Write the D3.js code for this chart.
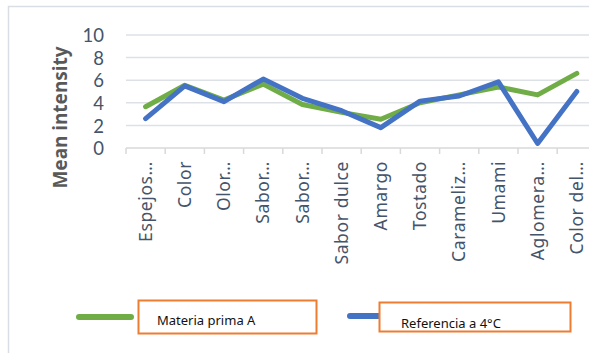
<!DOCTYPE html>
<html>
<head>
<meta charset="utf-8">
<script src="https://cdn.jsdelivr.net/npm/d3@7"></script>
<style>
  html, body { margin: 0; padding: 0; background: #fff; }
  svg { display: block; }
</style>
</head>
<body>
<svg id="chart" width="589" height="353"></svg>
<script>
// Sensory attributes (truncated as shown on the axis)
const categories = ["Espejos…", "Color", "Olor…", "Sabor…", "Sabor…", "Sabor dulce",
  "Amargo", "Tostado", "Carameliz…", "Umami", "Aglomera…", "Color del…"];

// Mean intensity per attribute
const materiaPrimaA = [3.65, 5.55, 4.25, 5.65, 3.85, 3.15, 2.55, 4.0, 4.7, 5.4, 4.7, 6.6];
const referencia4C  = [2.6, 5.5, 4.1, 6.1, 4.4, 3.3, 1.8, 4.15, 4.6, 5.85, 0.4, 5.0];

const seriesNames = ["Materia prima A", "Referencia a 4°C"];
const seriesColors = ["#70AD47", "#4472C4"];
const yTicks = [0, 2, 4, 6, 8, 10];

const svg = d3.select("#chart");
const font = "'Noto Sans', 'Open Sans', sans-serif";
const textColor = "#44546A";

// Outer chart frame
svg.append("path")
  .attr("d", "M8.5,353 L8.5,6.5 L589,6.5")
  .attr("fill", "none")
  .attr("stroke", "#D9DEE4")
  .attr("stroke-width", 1.5);

const plotLeft = 126, plotTop = 35, plotBottom = 148;
const step = 39.2;

const x = d3.scaleBand()
  .domain(d3.range(categories.length))
  .range([plotLeft, plotLeft + step * categories.length])
  .paddingInner(0).paddingOuter(0);

const y = d3.scaleLinear().domain([0, 10]).range([plotBottom, plotTop]);

// Horizontal gridlines
svg.append("g")
  .selectAll("line")
  .data(yTicks.filter(t => t > 0))
  .join("line")
  .attr("x1", plotLeft).attr("x2", plotLeft + step * categories.length)
  .attr("y1", d => y(d)).attr("y2", d => y(d))
  .attr("stroke", "#DDE1E6").attr("stroke-width", 1.5);

// Y axis labels
const yAxis = svg.append("g")
  .attr("transform", `translate(${plotLeft - 22},0)`)
  .call(d3.axisLeft(y).tickValues(yTicks).tickSize(0).tickPadding(0));
yAxis.select(".domain").remove();
yAxis.selectAll("text")
  .attr("font-family", "Lato, 'Noto Sans', sans-serif")
  .attr("font-size", 18.5)
  .attr("fill", textColor)
  .attr("dy", "0.36em");

// X axis with category ticks at band edges
const xAxisG = svg.append("g").attr("transform", `translate(0,${plotBottom})`);
xAxisG.append("line")
  .attr("x1", plotLeft).attr("x2", plotLeft + step * categories.length)
  .attr("stroke", "#D9D9D9").attr("stroke-width", 1.5);
xAxisG.selectAll("line.tick")
  .data(d3.range(categories.length + 1))
  .join("line")
  .attr("class", "tick")
  .attr("x1", d => plotLeft + d * step).attr("x2", d => plotLeft + d * step)
  .attr("y1", 0).attr("y2", 6)
  .attr("stroke", "#D9D9D9").attr("stroke-width", 1.5);

xAxisG.selectAll("text")
  .data(categories)
  .join("text")
  .attr("transform", (d, i) => `translate(${x(i) + x.bandwidth() / 2},13) rotate(-90)`)
  .attr("text-anchor", "end")
  .attr("dy", "0.35em")
  .attr("font-family", font)
  .attr("font-size", 17.5)
  .attr("letter-spacing", 0.6)
  .attr("fill", textColor)
  .text(d => d);

// Series lines
const line = d3.line()
  .x((d, i) => x(i) + x.bandwidth() / 2)
  .y(d => y(d));

[materiaPrimaA, referencia4C].forEach((vals, k) => {
  svg.append("path")
    .datum(vals)
    .attr("d", line)
    .attr("fill", "none")
    .attr("stroke", seriesColors[k])
    .attr("stroke-width", 5)
    .attr("stroke-linejoin", "round")
    .attr("stroke-linecap", "round");
});

// Legend
const legend = [
  { lx1: 79, lx2: 131, ly: 317, bx: 138.5, by: 300.5, bw: 178, bh: 33, tx: 157, ty: 325 },
  { lx1: 350, lx2: 382, ly: 316, bx: 379.5, by: 302.5, bw: 191, bh: 29, tx: 401, ty: 327.5 }
];
legend.forEach((l, k) => {
  svg.append("line")
    .attr("x1", l.lx1).attr("x2", l.lx2).attr("y1", l.ly).attr("y2", l.ly)
    .attr("stroke", seriesColors[k]).attr("stroke-width", 6)
    .attr("stroke-linecap", "round");
  svg.append("rect")
    .attr("x", l.bx).attr("y", l.by).attr("width", l.bw).attr("height", l.bh)
    .attr("fill", "#fff").attr("stroke", "#ED7D31").attr("stroke-width", 2);
  svg.append("text")
    .attr("x", l.tx).attr("y", l.ty)
    .attr("font-family", font)
    .attr("font-size", 13)
    .attr("fill", "#111")
    .text(seriesNames[k]);
});

// Y axis title
svg.append("text")
  .attr("transform", `translate(67,${(45 + 190) / 2}) rotate(-90)`)
  .attr("text-anchor", "middle")
  .attr("font-family", font)
  .attr("font-weight", "bold")
  .attr("font-size", 19)
  .attr("fill", "#595959")
  .text("Mean intensity");
</script>
</body>
</html>
